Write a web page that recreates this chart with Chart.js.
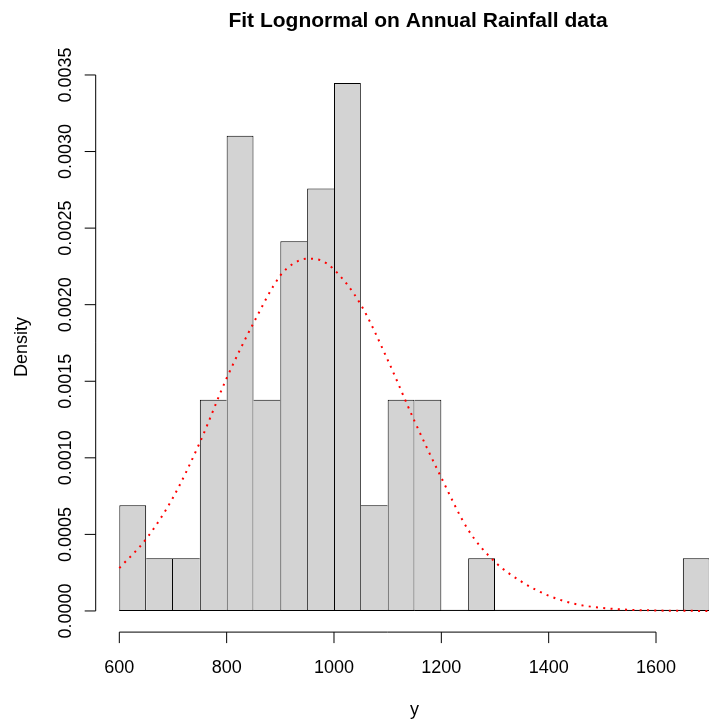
<!DOCTYPE html>
<html>
<head>
<meta charset="utf-8">
<title>Fit Lognormal on Annual Rainfall data</title>
<script src="https://cdn.jsdelivr.net/npm/chart.js@4.4.1/dist/chart.umd.min.js"></script>
<style>
  html, body { margin: 0; padding: 0; background: #fff; overflow: hidden; }
  canvas { display: block; }
</style>
</head>
<body>
<canvas id="rainChart" width="734" height="724"></canvas>
<script>
// histogram bins (midpoints, width 50) and counts of annual rainfall
const binWidth = 50;
const binMids = [625, 675, 725, 775, 825, 875, 925, 975, 1025, 1075, 1125, 1175,
  1225, 1275, 1325, 1375, 1425, 1475, 1525, 1575, 1625, 1675];
const binCounts = [2, 1, 1, 4, 9, 4, 7, 8, 10, 2, 4, 4,
  0, 1, 0, 0, 0, 0, 0, 0, 0, 1];

// fitted lognormal density
const curveX = [600, 650, 700, 750, 800, 850, 900, 925, 950, 975, 1000, 1050,
  1100, 1150, 1200, 1250, 1300, 1350, 1400, 1450, 1500, 1550, 1600, 1650, 1700];
const curveY = [0.00028, 0.00047, 0.00074, 0.00110, 0.00152, 0.00188, 0.00219,
  0.00227, 0.00230, 0.00229, 0.00223, 0.00200, 0.00164, 0.00124, 0.00087,
  0.00053, 0.00032, 0.00019, 0.00010, 0.000045, 0.00002, 0.000008, 0.000003,
  0.000001, 0.0000003];

// axis ticks
const xTicks = [600, 800, 1000, 1200, 1400, 1600];
const yTicks = [0, 0.0005, 0.001, 0.0015, 0.002, 0.0025, 0.003, 0.0035];

const nObs = binCounts.reduce((a, b) => a + b, 0);
const density = binCounts.map(c => c / (nObs * binWidth));

const FONT = '"Liberation Sans", Arial, Helvetica, sans-serif';

// base-graphics style axes, title and labels
const rAxes = {
  id: 'rAxes',
  beforeDatasetsDraw(chart) {
    const { ctx, scales: { x, y } } = chart;
    // histogram baseline (also under empty bins)
    ctx.save();
    ctx.strokeStyle = '#000';
    ctx.lineWidth = 1;
    ctx.beginPath();
    ctx.moveTo(x.getPixelForValue(binMids[0] - binWidth / 2), y.getPixelForValue(0) - 0.5);
    ctx.lineTo(x.getPixelForValue(binMids[binMids.length - 1] + binWidth / 2), y.getPixelForValue(0) - 0.5);
    ctx.stroke();
    ctx.restore();
  },
  afterDraw(chart) {
    const { ctx, chartArea, scales: { x, y } } = chart;
    const tick = 11;
    ctx.save();
    ctx.strokeStyle = '#000';
    ctx.fillStyle = '#000';
    ctx.lineWidth = 1;

    // x axis
    const ax = chartArea.bottom;
    ctx.beginPath();
    ctx.moveTo(x.getPixelForValue(xTicks[0]), ax);
    ctx.lineTo(x.getPixelForValue(xTicks[xTicks.length - 1]), ax);
    xTicks.forEach(v => {
      const px = x.getPixelForValue(v);
      ctx.moveTo(px, ax);
      ctx.lineTo(px, ax + tick);
    });
    ctx.stroke();
    ctx.font = '18px ' + FONT;
    ctx.textAlign = 'center';
    ctx.textBaseline = 'alphabetic';
    xTicks.forEach(v => ctx.fillText(String(v), x.getPixelForValue(v), 672.5));

    // y axis
    const ay = chartArea.left;
    ctx.beginPath();
    ctx.moveTo(ay, y.getPixelForValue(yTicks[0]));
    ctx.lineTo(ay, y.getPixelForValue(yTicks[yTicks.length - 1]));
    yTicks.forEach(v => {
      const py = y.getPixelForValue(v);
      ctx.moveTo(ay, py);
      ctx.lineTo(ay - tick, py);
    });
    ctx.stroke();
    yTicks.forEach(v => {
      ctx.save();
      ctx.translate(70.5, y.getPixelForValue(v));
      ctx.rotate(-Math.PI / 2);
      ctx.fillText(v.toFixed(4), 0, 0);
      ctx.restore();
    });

    // axis titles
    const midX = (chartArea.left + chartArea.right) / 2;
    const midY = (chartArea.top + chartArea.bottom) / 2;
    ctx.fillText('y', midX, 714.5);
    ctx.save();
    ctx.translate(26.5, midY);
    ctx.rotate(-Math.PI / 2);
    ctx.fillText('Density', 0, 0);
    ctx.restore();

    // main title
    ctx.font = 'bold 21px ' + FONT;
    ctx.fillText('Fit Lognormal on Annual Rainfall data', 418, 26.5);
    ctx.restore();
  }
};

// each shared edge is drawn once, by the taller of the two bars
function barBorder(context) {
  const i = context.dataIndex;
  const h = binCounts[i];
  const prev = i > 0 ? binCounts[i - 1] : -1;
  const next = i < binCounts.length - 1 ? binCounts[i + 1] : -1;
  return {
    top: 1,
    bottom: 1,
    left: prev < h ? 1 : 0,
    right: next <= h ? 1 : 0
  };
}

const ctx = document.getElementById('rainChart').getContext('2d');
new Chart(ctx, {
  type: 'bar',
  data: {
    datasets: [
      {
        type: 'line',
        label: 'lognormal',
        data: curveX.map((v, i) => ({ x: v, y: curveY[i] })),
        borderColor: '#ff0000',
        borderWidth: 2,
        borderDash: [2, 5.3],
        borderCapStyle: 'butt',
        pointRadius: 0,
        fill: false,
        cubicInterpolationMode: 'monotone',
        order: 1
      },
      {
        type: 'bar',
        label: 'y',
        data: binMids.map((v, i) => ({ x: v, y: density[i] })),
        backgroundColor: '#d3d3d3',
        borderColor: '#000000',
        borderWidth: barBorder,
        borderSkipped: false,
        inflateAmount: 0,
        barPercentage: 1,
        categoryPercentage: 1,
        order: 2
      }
    ]
  },
  options: {
    responsive: false,
    animation: false,
    devicePixelRatio: 1,
    layout: {
      padding: { left: 95.7, right: 0.7, top: 61.8, bottom: 91.9 }
    },
    plugins: {
      legend: { display: false },
      tooltip: { enabled: false },
      title: { display: false }
    },
    scales: {
      x: {
        type: 'linear',
        display: false,
        offset: false,
        min: 556,
        max: 1744,
        afterBuildTicks: s => { s.ticks = xTicks.map(v => ({ value: v })); }
      },
      y: {
        type: 'linear',
        display: false,
        min: -0.000138,
        max: 0.003586,
        afterBuildTicks: s => { s.ticks = yTicks.map(v => ({ value: v })); }
      }
    }
  },
  plugins: [rAxes]
});
</script>
</body>
</html>
